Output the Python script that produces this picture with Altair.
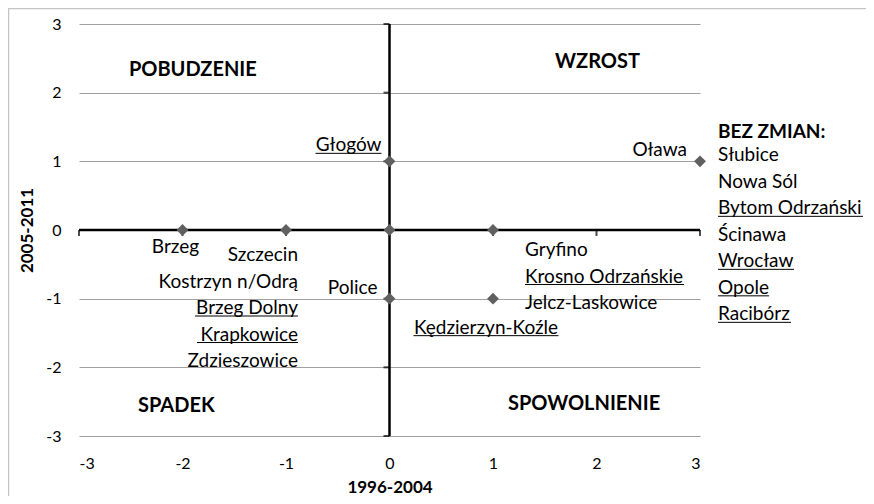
import altair as alt
import pandas as pd

# ---------------- data ----------------
point_x = [-2, -1, 0, 1, 0, 0, 1, 3]
point_y = [0, 0, 0, 0, 1, -1, -1, 1]

tick_values = [-3, -2, -1, 0, 1, 2, 3]

x_title = "1996-2004"
y_title = "2005-2011"

quadrant_names = ["POBUDZENIE", "WZROST", "SPADEK", "SPOWOLNIENIE"]
quadrant_x = [-1.9, 2.01, -2.06, 1.88]
quadrant_y = [2.33, 2.45, -2.56, -2.53]

labels_brzeg = ["Brzeg"]
labels_szczecin = ["Szczecin", "Kostrzyn n/Odrą", "Brzeg Dolny", "Krapkowice", "Zdzieszowice"]
labels_glogow = ["Głogów"]
labels_police = ["Police"]
labels_gryfino = ["Gryfino", "Krosno Odrzańskie", "Jelcz-Laskowice"]
labels_kedz = ["Kędzierzyn-Koźle"]
labels_olawa = ["Oława"]
bez_title = "BEZ ZMIAN:"
labels_bez = ["Słubice", "Nowa Sól", "Bytom Odrzański", "Ścinawa", "Wrocław", "Opole", "Racibórz"]

underlined = ["Głogów", "Brzeg Dolny", "Krapkowice", "Krosno Odrzańskie",
              "Kędzierzyn-Koźle", "Bytom Odrzański", "Wrocław", "Opole", "Racibórz"]

# ---------------- layout ----------------
W, H = 621, 412
PXX = W / 6.0
PXY = H / 6.0
FONT = "Lato"
LABEL_SIZE = 19

# (names, anchor x, anchor y, align, dx px, first dy px, step px, bold)
groups = [
    (labels_brzeg, -2, 0, "center", -7, 17, 0, False),
    (labels_szczecin, -1, 0, "right", 12, 25, 26.5, False),
    (labels_glogow, 0, 1, "right", -8, -16, 0, False),
    (labels_police, 0, -1, "right", -12, -11, 0, False),
    (labels_gryfino, 1, 0, "left", 32, 20, 26.5, False),
    (labels_kedz, 1, -1, "center", -7, 29, 0, False),
    (labels_olawa, 3, 1, "right", -13, -11, 0, False),
    ([bez_title], 3, 1, "left", 18, -29, 0, True),
    (labels_bez, 3, 1, "left", 18, -6, 26.5, False),
]
underline_width = {
    "Głogów": 66, "Brzeg Dolny": 103, "Krapkowice": 101, "Krosno Odrzańskie": 159,
    "Kędzierzyn-Koźle": 145, "Bytom Odrzański": 145, "Wrocław": 76, "Opole": 51,
    "Racibórz": 73,
}

rows = []
ul_rows = []
for names, ax, ay, align, dx, dy0, step, bold in groups:
    for i, name in enumerate(names):
        dy = dy0 + i * step
        lx = ax + dx / PXX
        ly = ay - dy / PXY
        rows.append({"x": lx, "y": ly, "t": name, "align": align, "bold": bold})
        if name in underlined:
            w = underline_width[name]
            off = {"left": 0, "right": -w, "center": -w / 2}[align]
            x1 = lx + off / PXX
            ul_rows.append({"x": x1, "x2": x1 + w / PXX, "y": ly - 8 / PXY})
labels_df = pd.DataFrame(rows)
ul_df = pd.DataFrame(ul_rows)

x_scale = alt.Scale(domain=[-3, 3], nice=False, zero=False)
y_scale = alt.Scale(domain=[-3, 3], nice=False, zero=False)

x_axis = alt.Axis(values=tick_values, title=x_title, grid=False, domain=False, ticks=False,
                  tickSize=0, labelPadding=19, titlePadding=8, labelFont=FONT,
                  labelFontSize=16, labelColor="black", titleFont=FONT, titleFontSize=17,
                  titleFontWeight="bold", titleColor="black",
                  labelExpr="toString(datum.value)")
y_axis = alt.Axis(values=tick_values, title=y_title, grid=True, gridColor="#a0a0a0",
                  gridWidth=1, domain=False, ticks=False, tickSize=0, labelPadding=18,
                  titlePadding=9, labelFont=FONT, labelFontSize=16, labelColor="black",
                  titleFont=FONT, titleFontSize=17, titleFontWeight="bold",
                  titleColor="black", labelExpr="toString(datum.value)")


def X(f="x"):
    return alt.X(f"{f}:Q", scale=x_scale, axis=x_axis)


def Y(f="y"):
    return alt.Y(f"{f}:Q", scale=y_scale, axis=y_axis)


points_df = pd.DataFrame({"x": point_x, "y": point_y})

frame = alt.Chart(pd.DataFrame({"a": [0]})).mark_rect(
    fillOpacity=0, stroke="#c4c4c4", strokeWidth=1.5
).encode(x=alt.value(-70.5), x2=alt.value(900), y=alt.value(-15.5), y2=alt.value(700))

axes_df = pd.DataFrame({"x": [-3, 0], "x2": [3, 0], "y": [0, -3], "y2": [0, 3]})
axis_lines = alt.Chart(axes_df).mark_rule(color="black", strokeWidth=2.5).encode(
    x=X(), x2="x2:Q", y=Y(), y2="y2:Q")

hticks = alt.Chart(pd.DataFrame({"x": tick_values, "y": [0] * 7})).mark_tick(
    orient="vertical", size=6, thickness=2, yOffset=3, color="black").encode(x=X(), y=Y())
vticks = alt.Chart(pd.DataFrame({"x": [0] * 7, "y": tick_values})).mark_tick(
    orient="horizontal", size=6, thickness=2, xOffset=-3, color="black").encode(x=X(), y=Y())

pts = alt.Chart(points_df).mark_point(
    shape="diamond", filled=True, size=140, color="#606060", opacity=1).encode(x=X(), y=Y())

text_layers = []
for align in ["left", "right", "center"]:
    for bold in [False, True]:
        sub = labels_df[(labels_df["align"] == align) & (labels_df["bold"] == bold)]
        if len(sub) == 0:
            continue
        text_layers.append(
            alt.Chart(sub).mark_text(align=align, baseline="middle", font=FONT,
                                     fontSize=LABEL_SIZE, color="black",
                                     fontWeight="bold" if bold else "normal")
            .encode(x=X(), y=Y(), text="t:N"))

quad_df = pd.DataFrame({"x": quadrant_x, "y": quadrant_y, "t": quadrant_names})
quads = alt.Chart(quad_df).mark_text(align="center", baseline="middle", font=FONT,
                                      fontSize=20, fontWeight="bold", color="black").encode(
    x=X(), y=Y(), text="t:N")

underlines = alt.Chart(ul_df).mark_rule(color="black", strokeWidth=1).encode(
    x=X(), x2="x2:Q", y=Y())

chart = alt.layer(frame, axis_lines, hticks, vticks, pts, quads, underlines, *text_layers).properties(
    width=W, height=H,
    autosize=alt.AutoSizeParams(type="none"),
    padding={"left": 71, "top": 16, "right": 166, "bottom": 60},
).configure_view(stroke=None)

chart.save("out.html", embed_options={"renderer": "svg", "actions": False})
